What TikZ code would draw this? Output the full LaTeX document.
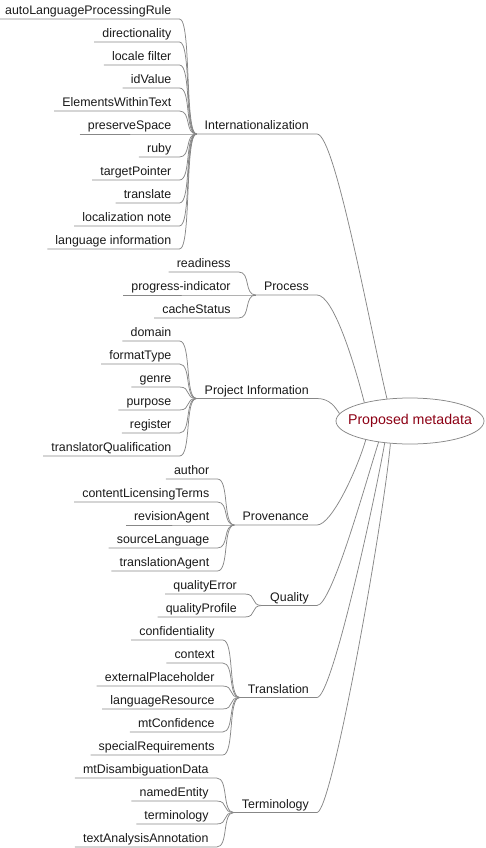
\documentclass[tikz,border=0pt]{standalone}
\usepackage{fontspec}
\setmainfont{Liberation Sans}
\usetikzlibrary{shapes.geometric}
\definecolor{edgegray}{RGB}{135,135,135}
\definecolor{rootred}{RGB}{140,0,20}
\definecolor{ink}{RGB}{25,25,25}
\tikzset{
  leaf/.style={anchor=south east,inner xsep=8pt,inner ysep=2pt,text height=9pt,text depth=2pt,text=ink,font=\fontsize{12.4}{14}\selectfont},
  link/.style={draw=edgegray,line width=0.75pt},
  rootnode/.style={ellipse,draw=edgegray,line width=0.75pt,text=rootred,inner xsep=-10pt,inner ysep=0pt,minimum width=148pt,minimum height=46pt,font=\fontsize{14.2}{16}\selectfont}
}
\begin{document}
\begin{tikzpicture}[x=1pt,y=-1pt]
    \useasboundingbox (0,0) rectangle (485,848);
    \node[rootnode] (root) at (410,421) {Proposed metadata};
    % Internationalization
    \node[leaf] (intl) at (317,134) {Internationalization};
    \draw[link] (intl.south west) -- (intl.south east) .. controls +(18,0) and +(-17,-71) .. (root.136);
    \coordinate (intlj) at ([xshift=-17pt]intl.south west);
    \foreach \t [count=\i from 0] in {autoLanguageProcessingRule,directionality,locale filter,idValue,ElementsWithinText,preserveSpace,ruby,targetPointer,translate,localization note,language information}{
      \node[leaf] (intl\i) at (intlj |- 0,{19+23*\i}) {\t};
      \draw[link] (intl\i.south west) -- (intl\i.south east) .. controls +(12,0) and +(-12,0) .. (intl.south west);
    };
    % Process
    \node[leaf] (proc) at (317,295) {Process};
    \draw[link] (proc.south west) -- (proc.south east) .. controls +(16,0) and +(-11,-43) .. (root.158);
    \coordinate (procj) at ([xshift=-17pt]proc.south west);
    \foreach \t [count=\i from 11] in {readiness,progress-indicator,cacheStatus}{
      \node[leaf] (proc\i) at (procj |- 0,{19+23*\i}) {\t};
      \draw[link] (proc\i.south west) -- (proc\i.south east) .. controls +(12,0) and +(-12,0) .. (proc.south west);
    };
    % Project Information
    \node[leaf] (proj) at (317,398.5) {Project Information};
    \draw[link] (proj.south west) -- (proj.south east) .. controls +(13,0) and +(-4,-6) .. (root.174);
    \coordinate (projj) at ([xshift=-17pt]proj.south west);
    \foreach \t [count=\i from 14] in {domain,formatType,genre,purpose,register,translatorQualification}{
      \node[leaf] (proj\i) at (projj |- 0,{19+23*\i}) {\t};
      \draw[link] (proj\i.south west) -- (proj\i.south east) .. controls +(12,0) and +(-12,0) .. (proj.south west);
    };
    % Provenance
    \node[leaf] (prov) at (317,525) {Provenance};
    \draw[link] (prov.south west) -- (prov.south east) .. controls +(15,0) and +(-8,28) .. (root.203);
    \coordinate (provj) at ([xshift=-17pt]prov.south west);
    \foreach \t [count=\i from 20] in {author,contentLicensingTerms,revisionAgent,sourceLanguage,translationAgent}{
      \node[leaf] (prov\i) at (provj |- 0,{19+23*\i}) {\t};
      \draw[link] (prov\i.south west) -- (prov\i.south east) .. controls +(12,0) and +(-12,0) .. (prov.south west);
    };
    % Quality
    \node[leaf] (qual) at (317,605.5) {Quality};
    \draw[link] (qual.south west) -- (qual.south east) .. controls +(15,0) and +(-12,37) .. (root.214);
    \coordinate (qualj) at ([xshift=-17pt]qual.south west);
    \foreach \t [count=\i from 25] in {qualityError,qualityProfile}{
      \node[leaf] (qual\i) at (qualj |- 0,{19+23*\i}) {\t};
      \draw[link] (qual\i.south west) -- (qual\i.south east) .. controls +(12,0) and +(-12,0) .. (qual.south west);
    };
    % Translation
    \node[leaf] (trans) at (317,697.5) {Translation};
    \draw[link] (trans.south west) -- (trans.south east) .. controls +(15,0) and +(-10,57) .. (root.221);
    \coordinate (transj) at ([xshift=-17pt]trans.south west);
    \foreach \t [count=\i from 27] in {confidentiality,context,externalPlaceholder,languageResource,mtConfidence,specialRequirements}{
      \node[leaf] (trans\i) at (transj |- 0,{19+23*\i}) {\t};
      \draw[link] (trans\i.south west) -- (trans\i.south east) .. controls +(12,0) and +(-12,0) .. (trans.south west);
    };
    % Terminology
    \node[leaf] (term) at (317,812.5) {Terminology};
    \draw[link] (term.south west) -- (term.south east) .. controls +(15,0) and +(-7,78) .. (root.229);
    \coordinate (termj) at ([xshift=-17pt]term.south west);
    \foreach \t [count=\i from 33] in {mtDisambiguationData,namedEntity,terminology,textAnalysisAnnotation}{
      \node[leaf] (term\i) at (termj |- 0,{19+23*\i}) {\t};
      \draw[link] (term\i.south west) -- (term\i.south east) .. controls +(12,0) and +(-12,0) .. (term.south west);
    };
\end{tikzpicture}
\end{document}
